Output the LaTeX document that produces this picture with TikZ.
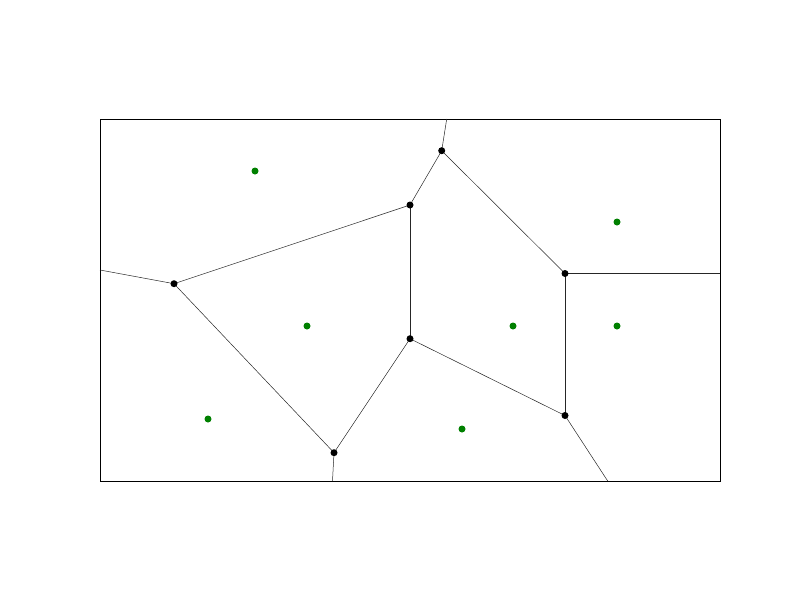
\documentclass[tikz,border=0pt]{standalone}
\begin{document}
\begin{tikzpicture}[x=1pt,y=-1pt,
  edge/.style={line width=0.5pt,black!85},
  vtx/.style={circle,fill=black,inner sep=0pt,minimum size=7pt},
  site/.style={circle,fill=green!50!black,inner sep=0pt,minimum size=7pt}]
\useasboundingbox (0,0) rectangle (800,600);
% frame
\node[draw=black,line width=1pt,minimum width=620pt,minimum height=362pt,inner sep=0pt,anchor=north west] (frame) at (100,119) {};
% voronoi vertices
\coordinate (a) at (441.7,150.7);
\coordinate (b) at (410,205);
\coordinate (c) at (174,283.7);
\coordinate (d) at (565,273.5);
\coordinate (e) at (410,338.7);
\coordinate (f) at (565,415.5);
\coordinate (g) at (334,452.7);
% boundary coordinates
\coordinate (ta) at (446.7,119);
\coordinate (lc) at (100,270);
\coordinate (bg) at (332.5,481);
\coordinate (rd) at (720,273.5);
\coordinate (bf) at (607.7,481);
% edges
\draw[edge] (a) -- (ta);
\draw[edge] (a) -- (b);
\draw[edge] (a) -- (d);
\draw[edge] (b) -- (c);
\draw[edge] (b) -- (e);
\draw[edge] (c) -- (lc);
\draw[edge] (c) -- (g);
\draw[edge] (g) -- (bg);
\draw[edge] (g) -- (e);
\draw[edge] (e) -- (f);
\draw[edge] (f) -- (d);
\draw[edge] (d) -- (rd);
\draw[edge] (f) -- (bf);
% vertices on top
\foreach \n in {a,b,c,d,e,f,g} \node[vtx] (v\n) at (\n) {};
% sites
\node[site] (s1) at (255,171) {};
\node[site] (s2) at (617,222) {};
\node[site] (s3) at (307,326) {};
\node[site] (s4) at (513,326) {};
\node[site] (s5) at (617,326) {};
\node[site] (s6) at (208,419) {};
\node[site] (s7) at (462,429) {};
\end{tikzpicture}
\end{document}
